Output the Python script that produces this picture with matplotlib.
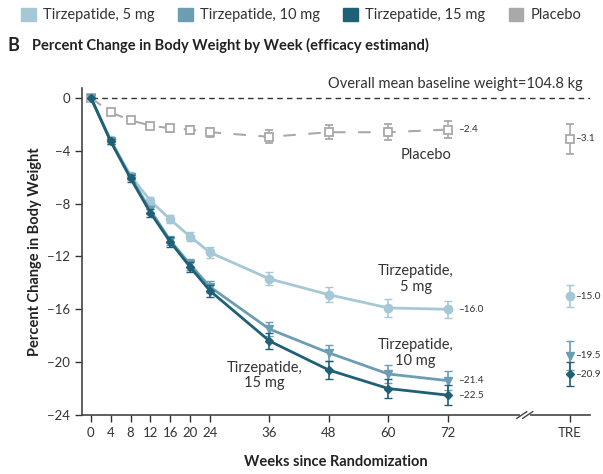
import matplotlib
matplotlib.use("Agg")
import matplotlib.pyplot as plt
from matplotlib.patches import Patch

plt.rcParams['font.family'] = ['Lato', 'DejaVu Sans']

weeks = [0, 4, 8, 12, 16, 20, 24, 36, 48, 60, 72]
tre_x = 96.6

# mean percent change and half-width of the error bar
tirz5 = [0, -3.2, -5.9, -7.8, -9.2, -10.5, -11.7, -13.7, -14.9, -15.9, -16.0]
tirz5_err = [0, 0.2, 0.25, 0.3, 0.3, 0.35, 0.4, 0.5, 0.55, 0.65, 0.65]
tirz10 = [0, -3.3, -6.0, -8.5, -10.8, -12.6, -14.3, -17.5, -19.3, -20.9, -21.4]
tirz10_err = [0, 0.2, 0.25, 0.3, 0.35, 0.4, 0.45, 0.55, 0.6, 0.65, 0.7]
tirz15 = [0, -3.3, -6.1, -8.7, -10.9, -12.8, -14.6, -18.4, -20.6, -22.0, -22.5]
tirz15_err = [0, 0.2, 0.25, 0.3, 0.35, 0.4, 0.45, 0.6, 0.65, 0.7, 0.75]
placebo = [0, -1.1, -1.7, -2.1, -2.3, -2.4, -2.6, -2.95, -2.6, -2.6, -2.4]
placebo_err = [0, 0.15, 0.2, 0.2, 0.25, 0.3, 0.35, 0.5, 0.55, 0.6, 0.65]

tre_vals = {"5": -15.0, "10": -19.5, "15": -20.9, "pbo": -3.1}
tre_err = {"5": 0.8, "10": 1.1, "15": 0.9, "pbo": 1.15}

c5 = "#a6c8d6"
c10 = "#6b9db3"
c15 = "#1f6076"
cp = "#a9a9a9"

fig = plt.figure(figsize=(6.03, 4.74), dpi=100)
ax = fig.add_axes([0.136, 0.1245, 0.842, 0.69])

ax.axhline(0, color="#333333", lw=1.0, ls=(0, (4, 3)), xmin=0.02, zorder=1)

ax.errorbar(weeks, tirz5, yerr=tirz5_err, color=c5, marker="o", ms=6, lw=2,
            capsize=3, elinewidth=1.2, zorder=3)
ax.errorbar(weeks, tirz10, yerr=tirz10_err, color=c10, marker="v", ms=6, lw=2,
            capsize=3, elinewidth=1.2, zorder=4)
ax.errorbar(weeks, tirz15, yerr=tirz15_err, color=c15, marker="D", ms=4.5, lw=2,
            capsize=3, elinewidth=1.2, zorder=5)
ax.errorbar(weeks, placebo, yerr=placebo_err, color=cp, marker="s", ms=6,
            mfc="white", mec=cp, mew=1.3, lw=1.5, ls=(0, (6, 6)),
            capsize=3, elinewidth=1.2, zorder=2)

ax.errorbar([tre_x], [tre_vals["pbo"]], yerr=[tre_err["pbo"]], color=cp, marker="s",
            ms=6, mfc="white", mec=cp, mew=1.3, capsize=3, elinewidth=1.2)
ax.errorbar([tre_x], [tre_vals["5"]], yerr=[tre_err["5"]], color=c5, marker="o",
            ms=6, capsize=3, elinewidth=1.2)
ax.errorbar([tre_x], [tre_vals["10"]], yerr=[tre_err["10"]], color=c10, marker="v",
            ms=6, capsize=3, elinewidth=1.2)
ax.errorbar([tre_x], [tre_vals["15"]], yerr=[tre_err["15"]], color=c15, marker="D",
            ms=4.5, capsize=3, elinewidth=1.2)

# end labels
lab_kw = dict(fontsize=7.2, va="center", ha="left", color="#333333")
ax.text(74, placebo[-1], "\u20132.4", **lab_kw)
ax.text(74, tirz5[-1], "\u201316.0", **lab_kw)
ax.text(74, tirz10[-1], "\u201321.4", **lab_kw)
ax.text(74, tirz15[-1], "\u201322.5", **lab_kw)
ax.text(tre_x + 1.0, tre_vals["pbo"], "\u20133.1", **lab_kw)
ax.text(tre_x + 1.0, tre_vals["5"], "\u201315.0", **lab_kw)
ax.text(tre_x + 1.0, tre_vals["10"], "\u201319.5", **lab_kw)
ax.text(tre_x + 1.0, tre_vals["15"], "\u201320.9", **lab_kw)

ann_kw = dict(fontsize=10.5, ha="center", va="center", color="#333333", linespacing=1.15)
ax.text(67.5, -4.3, "Placebo", **ann_kw)
ax.text(65.5, -13.7, "Tirzepatide,\n5 mg", **ann_kw)
ax.text(65.5, -19.3, "Tirzepatide,\n10 mg", **ann_kw)
ax.text(35, -21.0, "Tirzepatide,\n15 mg", **ann_kw)
ax.text(99.2, 0.5, "Overall mean baseline weight=104.8 kg", fontsize=10.5,
        ha="right", va="bottom", color="#333333")

ax.set_xlim(-1.8, 100.6)
ax.set_ylim(-24, 0.75)
ax.set_yticks([0, -4, -8, -12, -16, -20, -24])
ax.set_yticklabels(["0", "\u22124", "\u22128", "\u221212", "\u221216", "\u221220", "\u221224"])
ax.set_xticks(weeks + [tre_x])
ax.set_xticklabels([str(w) for w in weeks] + ["TRE"])
ax.tick_params(labelsize=9.5, colors="#333333", length=5, width=1)
for s in ["top", "right"]:
    ax.spines[s].set_visible(False)
for s in ["left", "bottom"]:
    ax.spines[s].set_color("#444444")
    ax.spines[s].set_linewidth(1.2)

# axis break marks
bx = 87.5
ax.plot([bx - 0.6, bx + 0.6], [-24, -24], color="white", lw=3, clip_on=False, zorder=6)
for dx in (-0.6, 0.6):
    ax.plot([bx + dx - 1.0, bx + dx + 1.0], [-24.25, -23.75], color="#444444",
            lw=1, clip_on=False, zorder=7)

ax.set_ylabel("Percent Change in Body Weight", fontsize=10.5, fontweight="bold",
              color="#222222", labelpad=4)
ax.set_xlabel("Weeks since Randomization", fontsize=10.5, fontweight="bold",
              color="#222222", labelpad=12)

fig.text(0.013, 0.905, "B", fontsize=13, fontweight="bold", color="#222222", va="center")
fig.text(0.053, 0.905, "Percent Change in Body Weight by Week (efficacy estimand)",
         fontsize=10.5, fontweight="bold", color="#222222", va="center")

handles = [Patch(color=c5), Patch(color=c10), Patch(color=c15), Patch(color=cp)]
names = ["Tirzepatide, 5 mg", "Tirzepatide, 10 mg", "Tirzepatide, 15 mg", "Placebo"]
fig.legend(handles, names, loc="center", bbox_to_anchor=(0.5, 0.968), ncol=4,
           frameon=False, fontsize=10.5, handlelength=1.0, handleheight=1.0,
           handletextpad=0.5, columnspacing=1.6, labelcolor="#333333")

fig.savefig("out.png", dpi=100, facecolor="white")
